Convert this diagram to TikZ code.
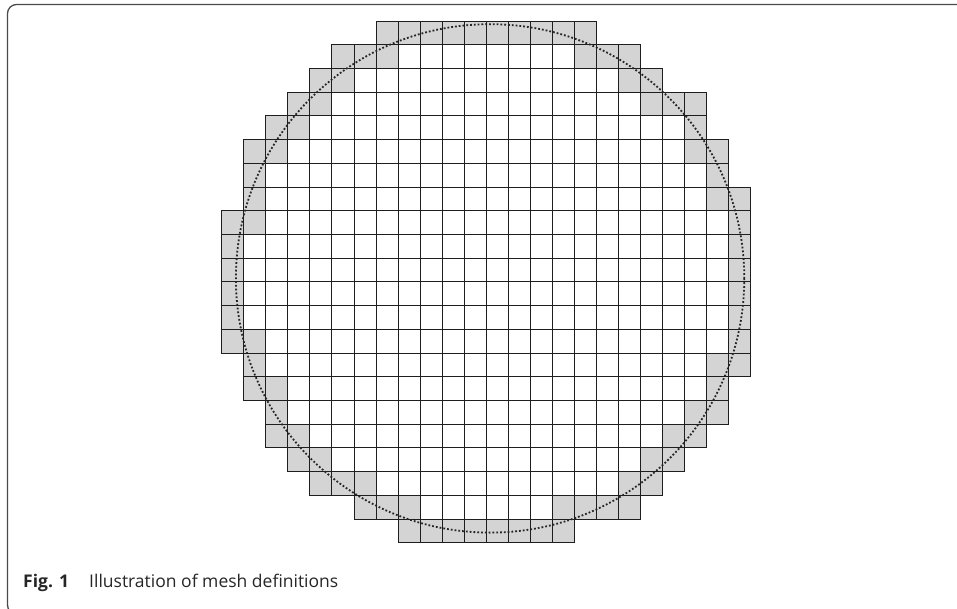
\documentclass[tikz,border=0pt]{standalone}
\usepackage{fontspec}
\setmainfont{Open Sans}
\definecolor{framecol}{HTML}{4A4A4A}
\definecolor{gridcol}{HTML}{1E1E1E}
\definecolor{cutcol}{HTML}{D4D4D4}
\tikzset{
  cellbox/.style={draw=gridcol, line width=1.1pt},
  framebox/.style={draw=framecol, line width=1.3pt, rounded corners=9pt},
  circdots/.style={draw=black!85, line width=1.8pt, dash pattern=on 1.8pt off 2pt},
}
\begin{document}
\begin{tikzpicture}[x=1pt,y=-1pt]
\useasboundingbox (0,0) rectangle (957,609);
\clip (0,0) rectangle (957,609);
% frame
\draw[framebox] (1000,4.5) -- (7.5,4.5) -- (7.5,614) -- (1000,614);
% mesh
\def\xo{221.7}\def\cw{22.054}
\def\yo{21.0}\def\ch{23.72}
\foreach \r/\s/\e/\ws/\we in {
  0/7/16/99/-1, 1/5/18/8/15, 2/4/19/6/17, 3/3/21/5/18, 4/2/21/4/20,
  5/1/22/3/20, 6/1/22/2/21, 7/1/23/2/21, 8/0/23/2/22, 9/0/23/1/22,
  10/0/23/1/22, 11/0/23/1/22, 12/0/23/1/22, 13/0/23/2/22, 14/1/23/2/21,
  15/1/22/3/21, 16/2/22/3/20, 17/2/21/4/19, 18/3/20/5/18, 19/4/19/7/17,
  20/6/18/9/14, 21/8/15/99/-1}{
  \foreach \c in {\s,...,\e}{
    \def\fc{cutcol}
    \ifnum\c<\ws\relax\else\ifnum\c>\we\relax\else\def\fc{white}\fi\fi
    \pgfmathsetmacro\xa{floor(\xo+\c*\cw)+0.5}
    \pgfmathsetmacro\xb{floor(\xo+(\c+1)*\cw)+0.5}
    \pgfmathsetmacro\ya{floor(\yo+\r*\ch)+0.5}
    \pgfmathsetmacro\yb{floor(\yo+(\r+1)*\ch)+0.5}
    \filldraw[cellbox, fill=\fc] (\xa,\ya) rectangle (\xb,\yb);
  }
}
% circle
\draw[circdots] (490.1,278.4) circle[radius=254.2];
% caption
\node[anchor=base west, inner sep=0pt, font=\fontsize{17.5}{20}\selectfont\bfseries, text=black!85] (fig) at (23,587) {Fig. 1};
\node[anchor=base west, inner sep=0pt, font=\fontsize{17.5}{20}\selectfont, text=black!85] (cap) at (89,587) {Illustration of mesh definitions};
\end{tikzpicture}
\end{document}
